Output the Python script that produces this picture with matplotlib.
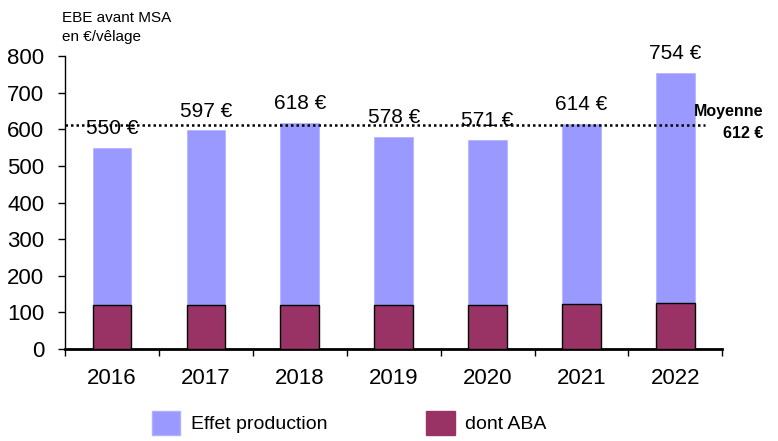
import matplotlib.pyplot as plt
from matplotlib.patches import Patch
import numpy as np

plt.rcParams['font.family'] = ['Liberation Sans', 'DejaVu Sans']

years = ['2016', '2017', '2018', '2019', '2020', '2021', '2022']
ebe = [550, 597, 618, 578, 571, 614, 754]
aba = [120, 120, 120, 120, 120, 122, 125]
moyenne = 612

fig = plt.figure(figsize=(7.78, 4.41), dpi=100)
ax = fig.add_axes([0.0835, 0.2086, 0.845, 0.664])

x = np.arange(len(years))
w = 0.41
ax.bar(x, ebe, width=w, color='#9999FF', edgecolor='#b0b0ff', linewidth=0.5, zorder=2)
ax.bar(x, aba, width=w, color='#993366', edgecolor='black', linewidth=1.0, zorder=3)

for xi, v in zip(x, ebe):
    ax.annotate(f'{v} €', (xi, v), xytext=(0, 14), textcoords='offset points',
                ha='center', va='center', fontsize=15, zorder=4)

ax.plot([-0.5, 6.32], [moyenne, moyenne], color='black', linestyle=(0, (1, 1.2)),
        linewidth=1.8, zorder=5, clip_on=False)
fig.text(0.981, 0.722, 'Moyenne\n612 €', ha='right', va='center', ma='right',
         fontsize=11.5, fontweight='bold', linespacing=1.55)

ax.set_xlim(-0.5, 6.5)
ax.set_ylim(0, 800)
ax.set_yticks(range(0, 801, 100))
ax.set_xticks(x)
ax.set_xticklabels(years)
ax.set_xticks(np.arange(-0.5, 7, 1), minor=True)
ax.tick_params(axis='x', which='major', length=0, labelsize=16, pad=14)
ax.tick_params(axis='x', which='minor', length=5, width=1, direction='out')
ax.tick_params(axis='y', length=5, width=1, labelsize=16, pad=10)

for s in ['top', 'right']:
    ax.spines[s].set_visible(False)
ax.spines['left'].set_linewidth(1.0)
ax.spines['bottom'].set_linewidth(2.0)

fig.text(0.08, 0.96, 'EBE avant MSA', fontsize=11, va='center')
fig.text(0.08, 0.917, 'en €/vêlage', fontsize=11, va='center')

handles = [Patch(facecolor='#9999FF', edgecolor='#b0b0ff', label='Effet production'),
           Patch(facecolor='#993366', edgecolor='#993366', label='dont ABA')]
fig.legend(handles=handles, loc='lower center', bbox_to_anchor=(0.449, -0.025), ncol=2,
           frameon=False, fontsize=14, handlelength=1.45, handleheight=1.45,
           columnspacing=5.1, handletextpad=0.55)

fig.savefig('out.png', dpi=100)
